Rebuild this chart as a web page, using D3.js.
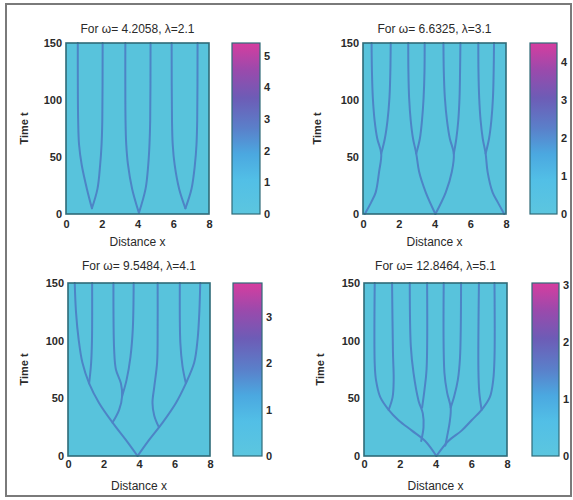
<!DOCTYPE html>
<html><head><meta charset="utf-8">
<script src="https://cdn.jsdelivr.net/npm/d3@7"></script>
<style>
html,body{margin:0;padding:0;background:#fff;}
text{font-family:"Liberation Sans",Arial,sans-serif;}
</style></head>
<body><svg id="c" width="573" height="500"></svg>
<script>
// ---------- data ----------
const titles = ["For ω= 4.2058, λ=2.1", "For ω= 6.6325, λ=3.1", "For ω= 9.5484, λ=4.1", "For ω= 12.8464, λ=5.1"];
const xTicks = [0, 2, 4, 6, 8];
const yTicks = [0, 50, 100, 150];
const xLabel = "Distance x";
const yLabel = "Time t";
const cbMax = [5.4, 4.5, 3.73, 3.03];
const cbTicks = [[0,1,2,3,4,5],[0,1,2,3,4],[0,1,2,3],[0,1,2,3]];

// trajectories as [x, t] points
const paths1 = [
  [[1.45,5],[1.17,22],[0.88,43],[0.73,61],[0.68,82],[0.66,150]],
  [[1.45,5],[1.76,22],[1.91,43],[1.99,61],[2.03,82],[2.05,150]],
  [[4.08,1],[3.7,22],[3.47,43],[3.37,61],[3.33,82],[3.32,150]],
  [[4.08,1],[4.45,22],[4.6,43],[4.67,61],[4.71,82],[4.73,150]],
  [[6.68,5],[6.33,22],[6.08,43],[5.97,61],[5.93,82],[5.91,150]],
  [[6.68,5],[7.02,22],[7.21,43],[7.3,61],[7.34,82],[7.36,150]]
];
const paths2 = [
  [[0.1,0],[0.45,10],[0.71,19],[0.9,37],[1.02,53],[0.8,66],[0.65,82],[0.55,102],[0.5,125],[0.48,150]],
  [[1.02,53],[1.22,66],[1.37,82],[1.48,102],[1.53,125],[1.55,150]],
  [[4.05,0],[3.51,19],[3.14,37],[2.98,53],[2.8,66],[2.67,82],[2.58,102],[2.54,125],[2.53,150]],
  [[2.98,53],[3.18,66],[3.3,82],[3.39,102],[3.44,125],[3.45,150]],
  [[4.05,0],[4.63,19],[4.97,37],[5.08,53],[4.86,66],[4.7,82],[4.58,102],[4.52,125],[4.5,150]],
  [[5.08,53],[5.22,66],[5.33,82],[5.4,102],[5.43,125],[5.45,150]],
  [[7.9,0],[7.55,10],[7.25,19],[6.97,37],[6.86,53],[6.7,66],[6.58,82],[6.5,102],[6.46,125],[6.45,150]],
  [[6.86,53],[7.05,66],[7.18,82],[7.27,102],[7.31,125],[7.33,150]]
];
const paths3 = [
  [[3.92,0],[3.26,14],[2.51,29],[1.75,46],[1.19,63],[0.81,81],[0.6,101],[0.45,125],[0.38,150]],
  [[1.19,63],[1.3,80],[1.35,100],[1.36,150]],
  [[2.51,29],[2.88,40],[3.05,52],[2.98,63],[2.7,75],[2.6,92],[2.56,150]],
  [[3.05,52],[3.3,66],[3.52,86],[3.65,110],[3.7,150]],
  [[3.92,0],[4.57,14],[5.33,29],[6.08,46],[6.64,63],[7.11,81],[7.3,101],[7.4,125],[7.45,150]],
  [[5.12,25],[4.86,35],[4.76,46],[4.86,60],[5.02,81],[5.05,110],[5.05,150]],
  [[6.64,63],[6.45,78],[6.33,98],[6.3,150]]
];
const paths4 = [
  [[4.05,0],[3.42,13],[2.68,22],[1.93,31],[1.38,40],[0.91,51],[0.67,66],[0.6,80],[0.6,150]],
  [[1.38,40],[1.6,51],[1.66,66],[1.62,90],[1.57,150]],
  [[3.2,13],[3.33,25],[3.29,37],[3.05,48],[2.77,72],[2.62,95],[2.56,150]],
  [[3.25,42],[3.38,57],[3.5,75],[3.53,150]],
  [[4.05,0],[4.72,13],[5.46,22],[6.02,31],[6.58,40],[7.04,51],[7.23,66],[7.3,85],[7.3,150]],
  [[6.58,40],[6.45,55],[6.4,75],[6.43,150]],
  [[4.55,9],[4.65,17],[4.8,30],[4.85,42],[4.65,55],[4.5,72],[4.46,150]],
  [[4.85,42],[5.05,52],[5.25,66],[5.37,85],[5.43,150]]
];
const allPaths = [paths1, paths2, paths3, paths4];

// ---------- layout ----------
const panels = [
  {x0:66, x1:209, y0:43, y1:214, cb0:232, cb1:260, ylab:24, tY:33, xtPad:6, xlY:246},
  {x0:363, x1:506, y0:43, y1:214, cb0:530, cb1:557, ylab:317, tY:33, xtPad:6, xlY:246},
  {x0:68, x1:210, y0:283, y1:456, cb0:233, cb1:262, ylab:24, tY:270, xtPad:4, xlY:490},
  {x0:364, x1:507, y0:283, y1:456, cb0:532, cb1:559, ylab:320, tY:270, xtPad:4, xlY:490}
];

const svg = d3.select("#c");
svg.append("rect").attr("x",6).attr("y",4).attr("width",565).attr("height",492)
  .attr("fill","#fff").attr("stroke","#7a7a7a").attr("stroke-width",2);

const defs = svg.append("defs");
const grad = defs.append("linearGradient").attr("id","cmap")
  .attr("x1",0).attr("y1",1).attr("x2",0).attr("y2",0);
[[0,"#5cc6df"],[0.2,"#52bfe6"],[0.35,"#4ba8e0"],[0.5,"#5a80ca"],[0.68,"#6d5cb6"],[0.84,"#9a4aac"],[1,"#d63d9f"]]
  .forEach(s => grad.append("stop").attr("offset",s[0]).attr("stop-color",s[1]));

const bg = "#58c3dc", lineCol = "#4d84c6", frameCol = "#2f6b78", txt = "#2a2a2a";

panels.forEach((p, i) => {
  const g = svg.append("g");
  const x = d3.scaleLinear().domain([0,8]).range([p.x0, p.x1]);
  const y = d3.scaleLinear().domain([0,150]).range([p.y1, p.y0]);

  g.append("rect").attr("x",p.x0).attr("y",p.y0).attr("width",p.x1-p.x0).attr("height",p.y1-p.y0)
    .attr("fill",bg);

  const line = d3.line().x(d=>x(d[0])).y(d=>y(d[1])).curve(d3.curveCatmullRom.alpha(0.5));
  g.append("g").selectAll("path").data(allPaths[i]).join("path")
    .attr("d", line).attr("fill","none").attr("stroke",lineCol)
    .attr("stroke-width",2).attr("stroke-linecap","round").attr("stroke-linejoin","round");

  g.append("rect").attr("x",p.x0).attr("y",p.y0).attr("width",p.x1-p.x0).attr("height",p.y1-p.y0)
    .attr("fill","none").attr("stroke",frameCol).attr("stroke-width",1.6);

  // axes
  const xa = g.append("g").attr("transform",`translate(0,${p.y1})`)
    .call(d3.axisBottom(x).tickValues(xTicks).tickSize(0).tickPadding(p.xtPad));
  xa.select(".domain").remove();
  xa.selectAll("text").attr("font-size",11).attr("font-weight","bold").attr("fill",txt)
    .attr("font-family","Liberation Sans, Arial, sans-serif");

  const ya = g.append("g").attr("transform",`translate(${p.x0},0)`)
    .call(d3.axisLeft(y).tickValues(yTicks).tickSize(0).tickPadding(4));
  ya.select(".domain").remove();
  ya.selectAll("text").attr("font-size",11).attr("font-weight","bold").attr("fill",txt)
    .attr("font-family","Liberation Sans, Arial, sans-serif");

  // labels
  g.append("text").attr("x",(p.x0+p.x1)/2).attr("y",p.tY).attr("text-anchor","middle")
    .attr("font-size",12).attr("fill",txt).text(titles[i]);
  g.append("text").attr("x",(p.x0+p.x1)/2).attr("y",p.xlY).attr("text-anchor","middle")
    .attr("font-size",12).attr("fill",txt).text(xLabel);
  g.append("text").attr("transform",`translate(${p.ylab},${(p.y0+p.y1)/2}) rotate(-90)`)
    .attr("text-anchor","middle").attr("dominant-baseline","central")
    .attr("font-size",11).attr("font-weight","bold").attr("fill",txt).text(yLabel);

  // colorbar
  const c = d3.scaleLinear().domain([0,cbMax[i]]).range([p.y1, p.y0]);
  g.append("rect").attr("x",p.cb0).attr("y",p.y0).attr("width",p.cb1-p.cb0).attr("height",p.y1-p.y0)
    .attr("fill","url(#cmap)").attr("stroke",frameCol).attr("stroke-width",1.2);
  const ca = g.append("g").attr("transform",`translate(${p.cb1},0)`)
    .call(d3.axisRight(c).tickValues(cbTicks[i]).tickSize(0).tickPadding(4).tickFormat(d3.format("d")));
  ca.select(".domain").remove();
  ca.selectAll("text").attr("font-size",11).attr("font-weight","bold").attr("fill",txt)
    .attr("font-family","Liberation Sans, Arial, sans-serif");
});
</script></body></html>
